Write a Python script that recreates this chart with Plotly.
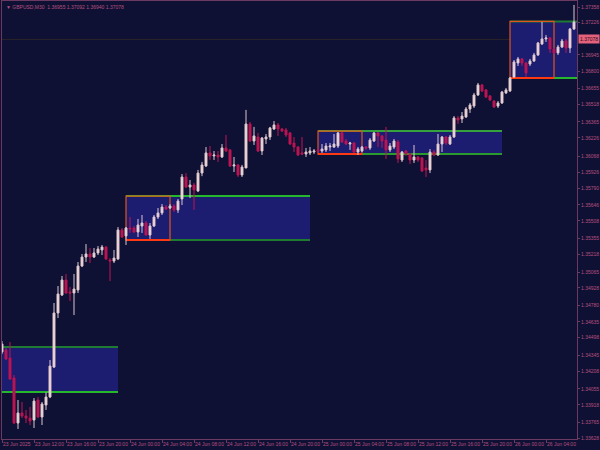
import plotly.graph_objects as go

# ---------------- data ----------------
symbol = "GBPUSD,M30"
header_ohlc = ["1.36955", "1.37092", "1.36940", "1.37078"]
bid_price = 1.37078

open_ = [
    1.34375, 1.34392, 1.34322, 1.34149, 1.33760, 1.33847, 1.33821, 1.33803, 1.33786, 1.33959,
    1.33812, 1.33916, 1.33985, 1.34244, 1.34712, 1.34867, 1.34997, 1.34893, 1.34885, 1.34911,
    1.35118, 1.35196, 1.35222, 1.35196, 1.35231, 1.35257, 1.35282, 1.35170, 1.35161, 1.35179,
    1.35430, 1.35378, 1.35447, 1.35447, 1.35412, 1.35464, 1.35490, 1.35386, 1.35464, 1.35542,
    1.35577, 1.35628, 1.35620, 1.35637, 1.35603, 1.35698, 1.35888, 1.35801, 1.35819, 1.35767,
    1.35922, 1.35983, 1.36096, 1.36070, 1.36078, 1.36061, 1.36139, 1.36122, 1.35983, 1.35992,
    1.35905, 1.35966, 1.36346, 1.36199, 1.36234, 1.36113, 1.36217, 1.36234, 1.36303, 1.36338,
    1.36303, 1.36295, 1.36269, 1.36182, 1.36147, 1.36096, 1.36087, 1.36096, 1.36104, 1.36122,
    1.36113, 1.36122, 1.36147, 1.36147, 1.36156, 1.36269, 1.36199, 1.36173, 1.36182, 1.36104,
    1.36113, 1.36147, 1.36139, 1.36199, 1.36269, 1.36243, 1.36208, 1.36122, 1.36147, 1.36191,
    1.36035, 1.36113, 1.36087, 1.36035, 1.36061, 1.36052, 1.35966, 1.35949, 1.36104, 1.36078,
    1.36173, 1.36234, 1.36173, 1.36234, 1.36398, 1.36390, 1.36407, 1.36476, 1.36502, 1.36597,
    1.36684, 1.36641, 1.36589, 1.36545, 1.36502, 1.36528, 1.36615, 1.36632, 1.36753, 1.36874,
    1.36909, 1.36874, 1.36865, 1.36891, 1.36943, 1.37038, 1.37082, 1.37090, 1.36995, 1.36961,
    1.37012, 1.37064, 1.37004, 1.37168,
]
high = [
    1.34469, 1.34409, 1.34461, 1.34175, 1.33959, 1.33942, 1.33873, 1.33899, 1.33976, 1.33985,
    1.33942, 1.34025, 1.34305, 1.34798, 1.34945, 1.35032, 1.35049, 1.34937, 1.35049, 1.35153,
    1.35222, 1.35308, 1.35274, 1.35274, 1.35291, 1.35300, 1.35291, 1.35187, 1.35257, 1.35455,
    1.35447, 1.35455, 1.35542, 1.35464, 1.35525, 1.35559, 1.35507, 1.35490, 1.35559, 1.35620,
    1.35654, 1.35646, 1.35654, 1.35654, 1.35698, 1.35914, 1.35922, 1.35862, 1.35836, 1.35949,
    1.36018, 1.36147, 1.36156, 1.36113, 1.36113, 1.36173, 1.36251, 1.36130, 1.36061, 1.36000,
    1.35992, 1.36468, 1.36364, 1.36321, 1.36269, 1.36234, 1.36260, 1.36321, 1.36372, 1.36355,
    1.36312, 1.36312, 1.36277, 1.36234, 1.36156, 1.36234, 1.36139, 1.36147, 1.36130, 1.36139,
    1.36173, 1.36182, 1.36182, 1.36260, 1.36277, 1.36277, 1.36217, 1.36191, 1.36191, 1.36147,
    1.36156, 1.36156, 1.36225, 1.36277, 1.36277, 1.36251, 1.36321, 1.36182, 1.36217, 1.36208,
    1.36113, 1.36122, 1.36096, 1.36165, 1.36070, 1.36061, 1.36035, 1.36130, 1.36122, 1.36260,
    1.36243, 1.36243, 1.36251, 1.36415, 1.36415, 1.36450, 1.36493, 1.36528, 1.36615, 1.36701,
    1.36692, 1.36649, 1.36597, 1.36554, 1.36545, 1.36632, 1.36658, 1.36753, 1.36900, 1.36926,
    1.36917, 1.36883, 1.36909, 1.36961, 1.37056, 1.37229, 1.37116, 1.37099, 1.37004, 1.37030,
    1.37082, 1.37082, 1.37177, 1.37376,
]
low = [
    1.34357, 1.34305, 1.34132, 1.33752, 1.33709, 1.33803, 1.33760, 1.33743, 1.33717, 1.33803,
    1.33743, 1.33873, 1.33976, 1.34236, 1.34668, 1.34859, 1.34876, 1.34815, 1.34694, 1.34885,
    1.35109, 1.35153, 1.35144, 1.35187, 1.35213, 1.35213, 1.35170, 1.34988, 1.35144, 1.35170,
    1.35360, 1.35300, 1.35404, 1.35404, 1.35369, 1.35404, 1.35378, 1.35352, 1.35455, 1.35525,
    1.35559, 1.35603, 1.35611, 1.35585, 1.35577, 1.35646, 1.35793, 1.35706, 1.35603, 1.35758,
    1.35895, 1.35974, 1.36035, 1.36035, 1.36018, 1.36052, 1.36104, 1.35974, 1.35931, 1.35888,
    1.35888, 1.35966, 1.36191, 1.36165, 1.36104, 1.36078, 1.36173, 1.36208, 1.36295, 1.36243,
    1.36277, 1.36234, 1.36165, 1.36104, 1.36070, 1.36078, 1.36061, 1.36078, 1.36087, 1.36096,
    1.36096, 1.36104, 1.36113, 1.36139, 1.36139, 1.36182, 1.36165, 1.36122, 1.36096, 1.36078,
    1.36104, 1.36122, 1.36122, 1.36191, 1.36147, 1.36139, 1.36044, 1.36104, 1.36130, 1.36009,
    1.36018, 1.36070, 1.36000, 1.36009, 1.36018, 1.35931, 1.35888, 1.35922, 1.36070, 1.36070,
    1.36104, 1.36165, 1.36165, 1.36225, 1.36346, 1.36355, 1.36398, 1.36442, 1.36485, 1.36589,
    1.36623, 1.36571, 1.36545, 1.36485, 1.36485, 1.36519, 1.36606, 1.36623, 1.36744, 1.36848,
    1.36848, 1.36753, 1.36848, 1.36883, 1.36935, 1.37030, 1.37056, 1.36961, 1.36952, 1.36943,
    1.37004, 1.36961, 1.36961, 1.37159,
]
close = [
    1.34443, 1.34314, 1.34141, 1.33760, 1.33847, 1.33821, 1.33803, 1.33778, 1.33950, 1.33812,
    1.33925, 1.33985, 1.34253, 1.34712, 1.34876, 1.34997, 1.34885, 1.34885, 1.34919, 1.35118,
    1.35196, 1.35222, 1.35196, 1.35231, 1.35265, 1.35282, 1.35179, 1.35161, 1.35187, 1.35430,
    1.35369, 1.35447, 1.35438, 1.35412, 1.35473, 1.35490, 1.35386, 1.35464, 1.35542, 1.35577,
    1.35628, 1.35611, 1.35637, 1.35603, 1.35680, 1.35888, 1.35801, 1.35819, 1.35776, 1.35922,
    1.35992, 1.36096, 1.36070, 1.36078, 1.36061, 1.36139, 1.36113, 1.35983, 1.35992, 1.35905,
    1.35974, 1.36346, 1.36199, 1.36243, 1.36113, 1.36225, 1.36234, 1.36312, 1.36338, 1.36303,
    1.36286, 1.36251, 1.36173, 1.36147, 1.36078, 1.36087, 1.36104, 1.36113, 1.36113, 1.36113,
    1.36130, 1.36156, 1.36156, 1.36173, 1.36269, 1.36191, 1.36173, 1.36182, 1.36104, 1.36130,
    1.36147, 1.36139, 1.36208, 1.36269, 1.36243, 1.36199, 1.36122, 1.36156, 1.36199, 1.36044,
    1.36104, 1.36087, 1.36035, 1.36061, 1.36035, 1.35940, 1.35949, 1.36104, 1.36078, 1.36173,
    1.36234, 1.36182, 1.36234, 1.36398, 1.36381, 1.36415, 1.36476, 1.36511, 1.36597, 1.36684,
    1.36632, 1.36580, 1.36554, 1.36493, 1.36528, 1.36623, 1.36641, 1.36744, 1.36883, 1.36909,
    1.36874, 1.36788, 1.36891, 1.36943, 1.37047, 1.37082, 1.37090, 1.36995, 1.36961, 1.37012,
    1.37064, 1.37004, 1.37168, 1.37229,
]
bar_index = list(range(len(open_)))  # one M30 bar per slot, starting 23 Jun 2025 08:00

xtick_bars = [0, 8, 16, 24, 32, 40, 48, 56, 64, 72, 80, 88, 96, 104, 112, 120, 128, 136]
xtick_labels = [
    "23 Jun 2025", "23 Jun 12:00", "23 Jun 16:00", "23 Jun 20:00",
    "24 Jun 00:00", "24 Jun 04:00", "24 Jun 08:00", "24 Jun 12:00", "24 Jun 16:00", "24 Jun 20:00",
    "25 Jun 00:00", "25 Jun 04:00", "25 Jun 08:00", "25 Jun 12:00", "25 Jun 16:00", "25 Jun 20:00",
    "26 Jun 00:00", "26 Jun 04:00",
]
ytick_values = [
    1.37358, 1.37226, 1.36945, 1.36800, 1.36655, 1.36518, 1.36365, 1.36226, 1.36068,
    1.35926, 1.35790, 1.35646, 1.35508, 1.35355, 1.35218, 1.35065, 1.34928, 1.34780,
    1.34635, 1.34498, 1.34345, 1.34208, 1.34055, 1.33918, 1.33765, 1.33628,
]

# session range boxes (bar index span, price levels)
box_start = [-17, 31, 79, 127]
range_end = [-6, 42, 90, 138]
box_end = [29, 77, 125, 173]
box_high = [1.34417, 1.35723, 1.36285, 1.37233]
box_low = [1.34028, 1.35343, 1.36086, 1.36744]

# ---------------- styling ----------------
BG = "#0e1134"
FRAME = "#6c3a60"
TXT = "#b8507e"
BULL_FILL = "#fbe0dc"
BULL_LINE = "#dcc6cc"
BEAR = "#be1452"
BOX_FILL = "#1c1c70"
GREEN_DARK = "#1f7a32"
GREEN_BRIGHT = "#26b82c"
top_green = [GREEN_DARK, GREEN_BRIGHT, "#36a23e", GREEN_DARK]
bot_green = [GREEN_BRIGHT, GREEN_DARK, "#2a9a2e", GREEN_BRIGHT]
ORANGE = "#e0561e"
RED = "#ff3a12"
FONT = "Liberation Sans Narrow, Liberation Sans, Arial, sans-serif"

fig = go.Figure()
fig.add_trace(go.Candlestick(
    x=bar_index, open=open_, high=high, low=low, close=close,
    increasing=dict(line=dict(color=BULL_LINE, width=1), fillcolor=BULL_FILL),
    decreasing=dict(line=dict(color=BEAR, width=1), fillcolor=BEAR),
    whiskerwidth=0, showlegend=False, hoverinfo="skip",
))

shapes = []
for i in range(len(box_start)):
    shapes.append(dict(type="rect", xref="x", yref="y", layer="below",
                       x0=box_start[i], x1=box_end[i], y0=box_low[i], y1=box_high[i],
                       fillcolor=BOX_FILL, line=dict(width=0)))
for i in range(len(box_start)):
    shapes.append(dict(type="line", xref="x", yref="y", layer="below",
                       x0=box_start[i], x1=box_end[i], y0=box_high[i], y1=box_high[i],
                       line=dict(color=top_green[i], width=2)))
    shapes.append(dict(type="line", xref="x", yref="y", layer="below",
                       x0=box_start[i], x1=box_end[i], y0=box_low[i], y1=box_low[i],
                       line=dict(color=bot_green[i], width=2)))
    shapes.append(dict(type="rect", xref="x", yref="y", layer="below",
                       x0=box_start[i], x1=range_end[i], y0=box_low[i], y1=box_high[i],
                       fillcolor="rgba(0,0,0,0)", line=dict(color=ORANGE, width=1.2)))
    shapes.append(dict(type="line", xref="x", yref="y", layer="below",
                       x0=box_start[i], x1=range_end[i], y0=box_low[i], y1=box_low[i],
                       line=dict(color=RED, width=2)))
# bid line
shapes.append(dict(type="line", xref="paper", yref="y", layer="below",
                   x0=0, x1=1, y0=bid_price, y1=bid_price,
                   line=dict(color="#2c2428", width=1)))

annotations = [
    dict(xref="paper", yref="paper", x=0.004, y=1, xanchor="left", yanchor="top",
         yshift=-1, showarrow=False,
         text="▼ " + symbol + "  " + " ".join(header_ohlc),
         font=dict(family=FONT, size=5, color=TXT)),
    dict(xref="paper", yref="y", x=1, y=bid_price, xanchor="left", yanchor="middle",
         xshift=1, showarrow=False, text=f"{bid_price:.5f}",
         bgcolor="#e6627c", borderpad=1,
         font=dict(family=FONT, size=5, color="#2a0a18")),
]

fig.update_layout(
    width=600, height=450,
    margin=dict(l=2, r=23, t=1, b=11, pad=0),
    paper_bgcolor=BG, plot_bgcolor=BG,
    shapes=shapes, annotations=annotations,
    font=dict(family=FONT, size=5, color=TXT),
    xaxis=dict(range=[0, 143.75], rangeslider=dict(visible=False),
               showgrid=False, zeroline=False, showline=True, mirror=True,
               linecolor=FRAME, linewidth=1,
               tickmode="array", tickvals=xtick_bars, ticktext=xtick_labels,
               tickangle=0, ticks="outside", ticklen=3, tickcolor=FRAME,
               ticklabelposition="outside right",
               tickfont=dict(family=FONT, size=5, color=TXT), automargin=False),
    yaxis=dict(range=[1.33622, 1.37410], side="right",
               showgrid=False, zeroline=False, showline=True, mirror=True,
               linecolor=FRAME, linewidth=1,
               tickmode="array", tickvals=ytick_values,
               ticktext=[f"{v:.5f}" for v in ytick_values],
               ticks="outside", ticklen=2, tickcolor=FRAME,
               tickfont=dict(family=FONT, size=5, color=TXT), automargin=False),
)

fig.write_html(
    "out.html",
    config={"displayModeBar": False},
    post_script="document.body.style.margin='0px';document.body.style.background='" + BG + "';",
)
